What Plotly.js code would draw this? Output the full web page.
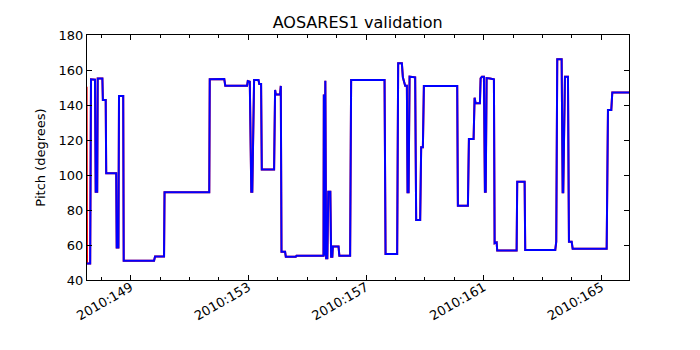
<!DOCTYPE html>
<html>
<head>
<meta charset="utf-8">
<script src="https://cdn.plot.ly/plotly-3.0.1.min.js"></script>
<style>html,body{margin:0;padding:0;background:#fff;}#chart{width:700px;height:350px;}</style>
</head>
<body>
<div id="chart"></div>
<script>
// Day of year 2010 (fractional) and pitch in degrees
const dayBlue = [147.514,147.622,147.650,147.786,147.810,147.861,147.878,148.037,148.054,148.150,148.167,148.507,148.524,148.582,148.602,148.745,148.762,149.793,149.827,150.133,150.150,151.568,151.670,151.687,152.180,152.214,152.956,152.980,153.048,153.099,153.133,153.194,153.344,153.371,153.432,153.456,153.874,153.908,153.932,154.078,154.102,154.126,154.248,154.272,154.612,154.636,155.554,155.565,155.588,155.616,155.643,155.684,155.718,155.786,155.813,155.854,155.871,156.065,156.092,156.459,156.493,157.629,157.663,158.058,158.092,158.218,158.252,158.330,158.388,158.411,158.446,158.480,158.670,158.704,158.840,158.874,158.932,158.966,160.099,160.122,160.463,160.497,160.656,160.690,160.724,160.871,160.895,160.939,161.007,161.041,161.068,161.099,161.211,161.347,161.371,161.439,161.459,162.119,162.139,162.391,162.411,163.432,163.466,163.500,163.649,163.684,163.704,163.762,163.864,163.898,163.990,164.024,165.180,165.224,165.337,165.371,165.939];
const pitchBlue = [49.5,49.5,154.7,154.5,90.5,90.5,155.2,155.2,142.9,142.9,101,101,58.6,58.6,145.1,145.1,51,51,53.4,53.4,90.1,90.1,90.1,154.7,154.9,151,151,153.7,153.3,90.5,90.5,154.3,154.3,152,152,103.2,103.2,148.6,146,146,150.9,56.2,56.2,53.3,53.3,53.9,53.9,146,54,153.9,52.4,52.4,90.5,90.5,53.3,53.3,59.1,59.1,53.9,53.9,154.3,154.3,54.9,54.9,163.8,163.8,155.8,151,151,90.1,90.1,156.2,155.8,74.3,74.3,115.8,115.8,150.9,150.9,82.5,82.5,120.6,120.6,144.2,141,141,155.2,156.2,156.2,90.5,90.5,155.4,155.2,154.7,61,61.5,56.8,56.8,96.2,96.2,57.1,57.1,61.9,166.1,166.1,90.1,90.1,156.2,156.2,61.9,61.9,57.9,57.9,137.1,137.1,147.2,147.2];
const dayRed = [147.500].concat(dayBlue);
const pitchRed = [150.5].concat(pitchBlue);
const tickDays = [149,153,157,161,165];
const tickLabels = ["2010:149","2010:153","2010:157","2010:161","2010:165"];

const traces = [
  {x: dayRed, y: pitchRed, mode: 'lines', line: {color: '#ff0000', width: 2, simplify: false}, hoverinfo: 'skip'},
  {x: dayBlue, y: pitchBlue, mode: 'lines', line: {color: '#0000ff', width: 2, simplify: false}, hoverinfo: 'skip'}
];
const layout = {
  width: 700, height: 350,
  margin: {l: 87, r: 71, t: 35, b: 70, pad: 0},
  paper_bgcolor: '#fff', plot_bgcolor: '#fff',
  showlegend: false,
  font: {family: 'DejaVu Sans', size: 13, color: '#000'},
  title: {text: 'AOSARES1 validation', font: {size: 16, color: '#000'}, x: 0.511, xanchor: 'center', y: 1 - 22/350, yref: 'container', yanchor: 'middle'},
  xaxis: {
    range: [147.514, 165.939], tickvals: tickDays, ticktext: tickLabels, tickangle: -30,
    ticks: 'inside', ticklen: 5, tickcolor: '#000', showline: true, linecolor: '#000', linewidth: 1,
    mirror: 'ticks', showgrid: false, zeroline: false, ticklabelstandoff: -6,
    minor: {dtick: 1, tick0: 148, ticks: 'inside', ticklen: 3, tickcolor: '#000', showgrid: false}
  },
  yaxis: {
    range: [40, 180], dtick: 20, tick0: 40,
    ticks: 'inside', ticklen: 5, tickcolor: '#000', showline: true, linecolor: '#000', linewidth: 1,
    mirror: 'ticks', showgrid: false, zeroline: false,
    title: {text: 'Pitch (degrees)', font: {size: 13}, standoff: 10}
  }
};
Plotly.newPlot('chart', traces, layout, {staticPlot: true, displayModeBar: false});
</script>
</body>
</html>
